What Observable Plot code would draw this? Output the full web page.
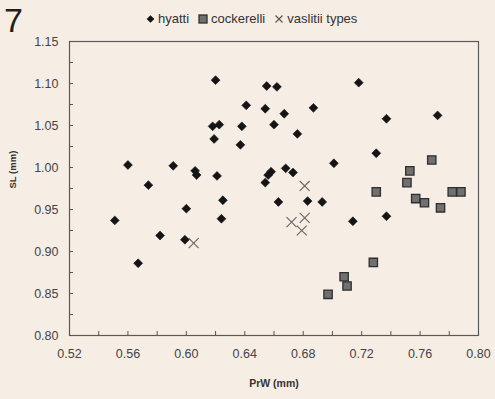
<!DOCTYPE html>
<html>
<head>
<meta charset="utf-8">
<script src="https://cdn.jsdelivr.net/npm/d3@7"></script>
<script src="https://cdn.jsdelivr.net/npm/@observablehq/plot@0.6"></script>
<style>
  html, body { margin: 0; padding: 0; background: #f6ede5; }
  #wrap { position: relative; width: 495px; height: 399px; overflow: hidden; font-family: "Liberation Sans", Arial, sans-serif; }
  #num { position: absolute; left: 4px; top: 3px; font-size: 34px; line-height: 34px; color: #1e1e1e; }
  #legend { position: absolute; left: 146px; top: 11px; font-size: 13px; line-height: 15px; color: #333; white-space: nowrap; }
  #legend span.item { margin-right: 9px; }
  #legend svg { vertical-align: -1px; margin-right: 3px; }
  #chart { position: absolute; left: 0; top: 0; }
</style>
</head>
<body>
<div id="wrap">
  <div id="chart"></div>
  <div id="num">7</div>
  <div id="legend"></div>
</div>
<script>
const seriesNames = ["hyatti", "cockerelli", "vaslitii types"];

const hyattiPrW = [0.551,0.560,0.567,0.574,0.582,0.591,0.599,0.600,0.606,0.607,0.619,0.618,0.6225,0.620,0.621,0.624,0.625,0.637,0.638,0.641,0.654,0.655,0.662,0.660,0.667,0.676,0.687,0.654,0.656,0.658,0.668,0.673,0.663,0.683,0.693,0.701,0.714,0.718,0.730,0.737,0.737,0.772];
const hyattiSL  = [0.937,1.003,0.886,0.979,0.919,1.002,0.914,0.951,0.996,0.991,1.034,1.049,1.051,1.104,0.990,0.939,0.961,1.027,1.049,1.074,1.070,1.097,1.096,1.051,1.064,1.040,1.071,0.982,0.991,0.995,0.999,0.994,0.959,0.960,0.959,1.005,0.936,1.101,1.017,1.058,0.942,1.062];

const cockerelliPrW = [0.730,0.751,0.753,0.768,0.757,0.763,0.774,0.782,0.788,0.728,0.708,0.710,0.697];
const cockerelliSL  = [0.971,0.982,0.996,1.009,0.963,0.958,0.952,0.971,0.971,0.887,0.870,0.859,0.849];

const vaslitiiPrW = [0.605,0.681,0.672,0.681,0.679];
const vaslitiiSL  = [0.910,0.978,0.935,0.940,0.925];

const xTickLabels = [0.52,0.56,0.60,0.64,0.68,0.72,0.76,0.80];
const yTickLabels = [0.80,0.85,0.90,0.95,1.00,1.05,1.10,1.15];
const xMinorTicks = d3.range(26, 41).map(i => i / 50);
const yMinorTicks = d3.range(32, 47).map(i => i / 40);

const toRows = (xs, ys) => xs.map((x, i) => ({x, y: ys[i]}));
const hyatti = toRows(hyattiPrW, hyattiSL);
const cockerelli = toRows(cockerelliPrW, cockerelliSL);
const vaslitii = toRows(vaslitiiPrW, vaslitiiSL);

const font = "Liberation Sans, Arial, sans-serif";

const chart = Plot.plot({
  width: 495,
  height: 399,
  marginLeft: 69,
  marginRight: 17,
  marginTop: 41,
  marginBottom: 64,
  style: { background: "transparent", fontFamily: font, fontSize: "12.5px", color: "#444" },
  x: { domain: [0.52, 0.80], label: null },
  y: { domain: [0.80, 1.15], label: null },
  marks: [
    Plot.frame({ stroke: "#5a5a5a", strokeWidth: 1.2 }),
    Plot.axisX(xMinorTicks, { anchor: "bottom", tickSize: 4, dy: -4, text: null, label: null, stroke: "#555" }),
    Plot.axisY(yMinorTicks, { anchor: "left", tickSize: 4, dx: 4, text: null, label: null, stroke: "#555" }),
    Plot.axisX(xTickLabels, { anchor: "bottom", tickSize: 0, tickPadding: 14, tickFormat: d3.format(".2f"), label: null, fill: "#444" }),
    Plot.axisY(yTickLabels, { anchor: "left", tickSize: 0, tickPadding: 11, tickFormat: d3.format(".2f"), label: null, fill: "#444" }),
    Plot.text(["SL (mm)"], { text: d => d, frameAnchor: "left", dx: -57, rotate: -90, fontWeight: "bold", fontSize: 9.5, fill: "#333" }),
    Plot.text(["PrW (mm)"], { text: d => d, frameAnchor: "bottom", dy: 51, fontWeight: "bold", fontSize: 10.5, fill: "#333" }),
    Plot.dot(vaslitii, { x: "x", y: "y", symbol: "times", r: 4.6, stroke: "#666", strokeWidth: 1.1 }),
    Plot.dot(cockerelli, { x: "x", y: "y", symbol: "square", r: 4.7, fill: "#707070", stroke: "#2e2e2e", strokeWidth: 1.3 }),
    Plot.dot(hyatti, { x: "x", y: "y", symbol: "diamond2", r: 4.0, fill: "#141414", stroke: "#141414", strokeWidth: 0.6 })
  ]
});
document.getElementById("chart").appendChild(chart);

// legend
const legendSymbols = [
  '<svg width="9" height="10" viewBox="-5 -5 10 10"><path d="M0,-4.3L4.3,0L0,4.3L-4.3,0Z" fill="#141414"/></svg>',
  '<svg width="10" height="10" viewBox="-5 -5 10 10"><rect x="-4" y="-4" width="8" height="8" fill="#707070" stroke="#2e2e2e" stroke-width="1.3"/></svg>',
  '<svg width="10" height="10" viewBox="-5 -5 10 10"><path d="M-3.5,-3.5L3.5,3.5M3.5,-3.5L-3.5,3.5" stroke="#555" stroke-width="1.1"/></svg>'
];
document.getElementById("legend").innerHTML = seriesNames
  .map((n, i) => `<span class="item">${legendSymbols[i]}${n}</span>`).join("");
</script>
</body>
</html>
